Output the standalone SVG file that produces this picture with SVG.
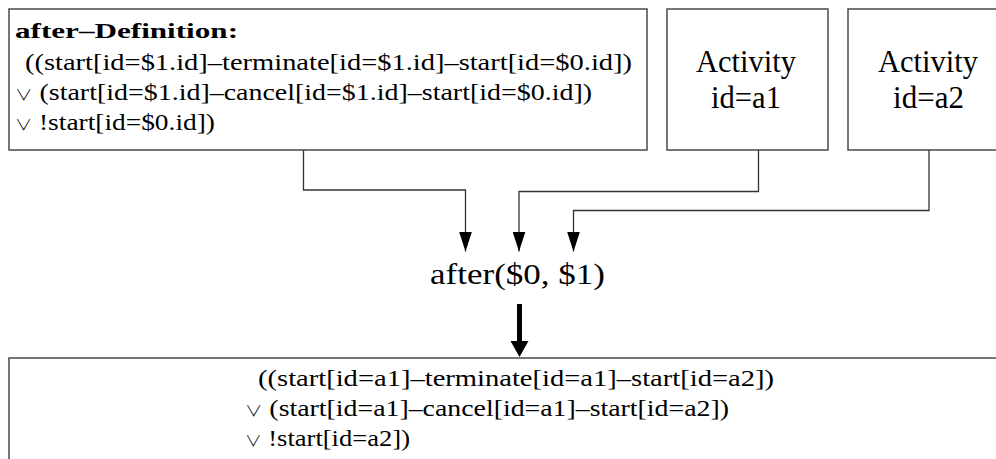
<svg xmlns="http://www.w3.org/2000/svg" width="996" height="459" viewBox="0 0 996 459">
  <defs>
    <style>
      .box { fill: #ffffff; stroke: #4a4a4a; stroke-width: 1.5; }
      .txt { font-family: "Liberation Serif", "Times New Roman", serif; fill: #000000; }
      .f { font-size: 24px; }
      .or { font-family: "Noto Sans CJK JP", "DejaVu Serif", serif; font-size: 15px; font-weight: 300; }
      .head { font-size: 22px; font-weight: bold; }
      .act { font-size: 31px; }
      .op { font-size: 29px; }
      .wire { fill: none; stroke: #333333; stroke-width: 1.3; }
    </style>
    <!-- arrowhead drawn along +x so orient="auto" turns it to the line direction -->
    <marker id="tip" markerUnits="userSpaceOnUse" markerWidth="20" markerHeight="13" refX="20" refY="6.5" orient="auto" viewBox="0 0 20 13">
      <path d="M0,0 L20,6.5 L0,13 Z" fill="#000000"/>
    </marker>
  </defs>

  <rect width="996" height="459" fill="#ffffff"/>

  <!-- definition box -->
  <g id="definition">
    <rect class="box" x="9" y="9" width="638" height="141"/>
    <text class="txt head" x="15" y="38" textLength="223" lengthAdjust="spacingAndGlyphs">after–Definition:</text>
    <text class="txt f" x="25" y="70" textLength="607" lengthAdjust="spacingAndGlyphs">((start[id=$1.id]–terminate[id=$1.id]–start[id=$0.id])</text>
    <text class="txt f" x="15" y="100" textLength="577" lengthAdjust="spacingAndGlyphs"><tspan class="or">∨</tspan> (start[id=$1.id]–cancel[id=$1.id]–start[id=$0.id])</text>
    <text class="txt f" x="15" y="130" textLength="200" lengthAdjust="spacingAndGlyphs"><tspan class="or">∨</tspan> !start[id=$0.id])</text>
  </g>

  <!-- activity a1 -->
  <g id="activity-a1">
    <rect class="box" x="667" y="9" width="161" height="141"/>
    <text class="txt act" x="746" y="72" text-anchor="middle" textLength="100" lengthAdjust="spacingAndGlyphs">Activity</text>
    <text class="txt act" x="746" y="108" text-anchor="middle" textLength="70" lengthAdjust="spacingAndGlyphs">id=a1</text>
  </g>

  <!-- activity a2 -->
  <g id="activity-a2">
    <rect class="box" x="848" y="9" width="161" height="141"/>
    <text class="txt act" x="928" y="72" text-anchor="middle" textLength="100" lengthAdjust="spacingAndGlyphs">Activity</text>
    <text class="txt act" x="928.5" y="108" text-anchor="middle" textLength="71" lengthAdjust="spacingAndGlyphs">id=a2</text>
  </g>

  <!-- operator -->
  <g id="operator">
    <text class="txt op" x="517.5" y="284" text-anchor="middle" textLength="175" lengthAdjust="spacingAndGlyphs">after($0, $1)</text>
  </g>

  <!-- result box -->
  <g id="result">
    <rect class="box" x="9" y="358" width="1000" height="120"/>
    <text class="txt f" x="258" y="386" textLength="516" lengthAdjust="spacingAndGlyphs">((start[id=a1]–terminate[id=a1]–start[id=a2])</text>
    <text class="txt f" x="245" y="416" textLength="484" lengthAdjust="spacingAndGlyphs"><tspan class="or">∨</tspan> (start[id=a1]–cancel[id=a1]–start[id=a2])</text>
    <text class="txt f" x="245" y="446" textLength="165" lengthAdjust="spacingAndGlyphs"><tspan class="or">∨</tspan> !start[id=a2])</text>
  </g>

  <!-- connectors -->
  <g id="connectors">
    <polyline class="wire" points="303.5,150 303.5,190 465.5,190 465.5,251.5" marker-end="url(#tip)"/>
    <polyline class="wire" points="758.5,150 758.5,191.5 519,191.5 519,251.5" marker-end="url(#tip)"/>
    <polyline class="wire" points="929,150 929,210.5 573.5,210.5 573.5,251.5" marker-end="url(#tip)"/>
    <line x1="519.5" y1="304" x2="519.5" y2="343" stroke="#000000" stroke-width="5"/>
    <path d="M510.5,341 L528.5,341 L519.5,357 Z" fill="#000000"/>
  </g>
</svg>
